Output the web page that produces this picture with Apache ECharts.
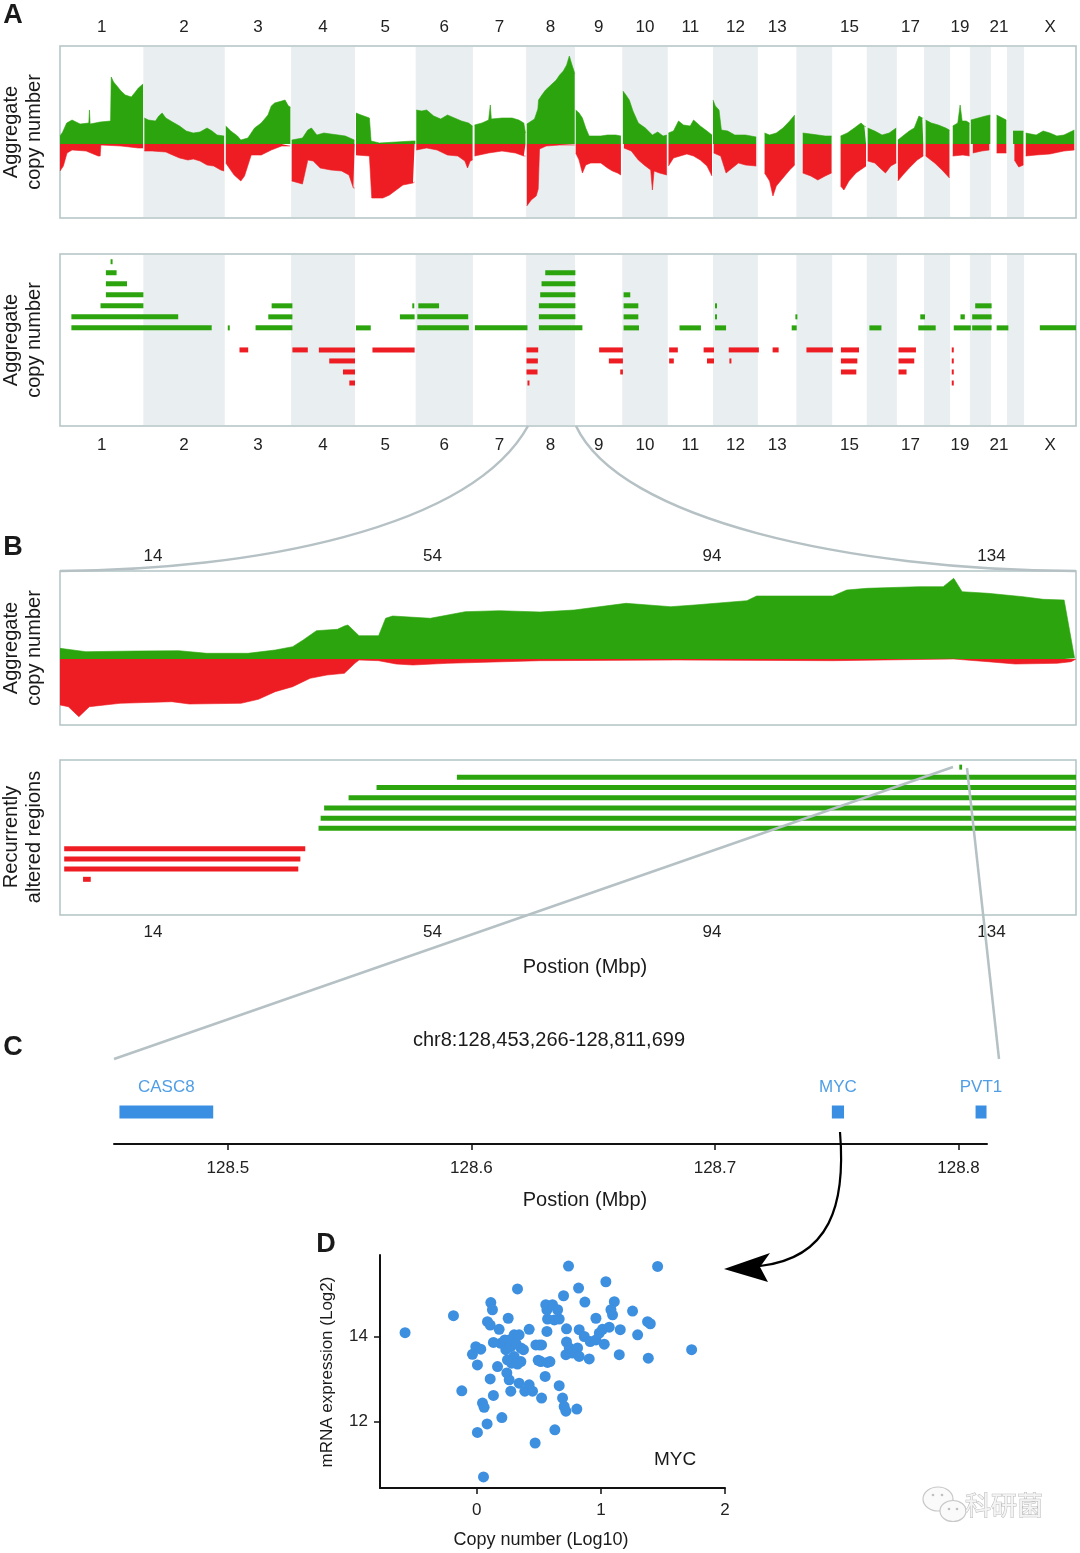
<!DOCTYPE html>
<html><head><meta charset="utf-8">
<script src="https://cdn.jsdelivr.net/npm/echarts@6/dist/echarts.min.js"></script>
<style>html,body{margin:0;padding:0;background:#fff}#chart{width:1080px;height:1553px}</style>
</head><body><div id="chart"></div>
<script>
// ---------------- DATA ----------------
const chromNames   = ['1','2','3','4','5','6','7','8','9','10','11','12','13','14','15','16','17','18','19','20','21','22','X'];
const chromLengths = [249,243,198,191,181,171,159,146,141,136,135,134,115,107,103,90,81,78,59,63,48,51,155]; // Mb
const shownChromLabels = ['1','2','3','4','5','6','7','8','9','10','11','12','13','15','17','19','21','X'];

// Panel A: aggregate copy number profile [chromosome, position (Mb), value]
const gainProfile = [
 ['1',0,8],['1',8,12],['1',20,21],['1',36,24],['1',60,20],['1',86,21],['1',88,34],['1',90,20],['1',120,22],['1',151,23],['1',153,67],['1',160,62],['1',170,58],['1',182,53],['1',195,49],['1',213,47],['1',225,52],['1',234,56],['1',248,60],
 ['2',3,26],['2',15,24],['2',36,23],['2',46,28],['2',56,31],['2',67,26],['2',87,22],['2',108,18],['2',128,13],['2',149,11],['2',169,12],['2',190,16],['2',205,13],['2',220,9],['2',241,8],
 ['3',3,18],['3',18,13],['3',38,8],['3',48,4],['3',69,6],['3',89,16],['3',109,21],['3',129,29],['3',139,38],['3',149,41],['3',170,43],['3',180,44],['3',190,38],['3',196,37],
 ['4',2,4],['4',34,6],['4',50,14],['4',61,16],['4',77,9],['4',98,11],['4',119,10],['4',141,9],['4',162,8],['4',189,4],
 ['5',3,31],['5',18,29],['5',43,26],['5',48,3],['5',73,1],['5',123,2],['5',173,3],['5',180,3],
 ['6',2,34],['6',18,33],['6',33,34],['6',54,28],['6',75,25],['6',95,29],['6',116,26],['6',137,23],['6',158,21],['6',170,18],
 ['7',5,19],['7',27,21],['7',47,24],['7',52,39],['7',55,25],['7',87,26],['7',117,26],['7',137,24],['7',152,21],['7',157,11],
 ['8',2,20],['8',25,25],['8',35,35],['8',37,44],['8',47,49],['8',58,54],['8',74,59],['8',90,64],['8',100,69],['8',111,73],['8',121,79],['8',129,88],['8',137,79],['8',143,73],['8',145,70],
 ['9',2,34],['9',12,31],['9',22,26],['9',32,16],['9',42,8],['9',77,8],['9',97,9],['9',122,9],['9',137,8],
 ['10',2,53],['10',11,49],['10',21,44],['10',32,33],['10',48,21],['10',69,16],['10',90,9],['10',106,12],['10',122,8],['10',133,9],
 ['11',2,11],['11',17,13],['11',32,23],['11',47,19],['11',67,18],['11',77,24],['11',97,18],['11',117,13],['11',132,9],
 ['12',0,44],['12',7,38],['12',18,34],['12',25,14],['12',44,13],['12',65,9],['12',97,9],['12',129,7],
 ['13',20,11],['13',35,9],['13',55,11],['13',75,16],['13',95,23],['13',110,29],
 ['14',19,11],['14',43,10],['14',86,8],['14',105,8],
 ['15',25,8],['15',45,11],['15',66,16],['15',86,21],['15',96,18],['15',101,17],
 ['16',3,16],['16',24,13],['16',46,9],['16',67,11],['16',88,16],
 ['17',3,4],['17',18,8],['17',37,13],['17',52,16],['17',66,28],['17',76,26],['17',79,26],
 ['18',5,24],['18',22,21],['18',43,19],['18',65,16],['18',76,14],
 ['19',8,18],['19',23,21],['19',30,39],['19',36,23],['19',48,23],['19',58,21],
 ['20',3,24],['20',25,26],['20',47,28],['20',61,29],
 ['21',17,29],['21',46,24],
 ['22',18,13],['22',49,13],
 ['X',5,11],['X',36,9],['X',57,13],['X',77,11],['X',98,8],['X',119,9],['X',150,14]
];
const lossProfile = [
 ['1',0,-27],['1',10,-22],['1',21,-9],['1',36,-6],['1',78,-7],['1',114,-12],['1',120,-12],['1',122,-1],['1',182,-2],['1',234,-4],['1',248,-4],
 ['2',3,-7],['2',26,-7],['2',67,-8],['2',87,-11],['2',108,-14],['2',133,-16],['2',149,-15],['2',169,-17],['2',190,-21],['2',210,-22],['2',231,-26],['2',241,-27],
 ['3',3,-19],['3',28,-31],['3',48,-37],['3',59,-32],['3',79,-11],['3',109,-11],['3',139,-6],['3',170,-2],['3',195,-2],
 ['4',2,-37],['4',34,-40],['4',50,-16],['4',66,-17],['4',87,-24],['4',119,-26],['4',151,-27],['4',173,-31],['4',186,-44],['4',190,-44],
 ['5',3,-11],['5',43,-12],['5',50,-54],['5',83,-54],['5',103,-51],['5',123,-46],['5',143,-41],['5',173,-39],['5',178,-38],
 ['6',2,-6],['6',33,-4],['6',64,-6],['6',95,-11],['6',126,-12],['6',147,-17],['6',155,-24],['6',163,-17],['6',170,-16],
 ['7',5,-12],['7',47,-9],['7',87,-7],['7',127,-9],['7',152,-12],['7',157,-12],
 ['8',2,-62],['8',15,-56],['8',30,-52],['8',36,-45],['8',40,-5],['8',60,-2],['8',100,-1],['8',145,-1],
 ['9',2,-9],['9',12,-16],['9',22,-29],['9',32,-21],['9',47,-19],['9',77,-19],['9',97,-24],['9',112,-27],['9',127,-29],['9',137,-31],
 ['10',5,-4],['10',27,-7],['10',48,-16],['10',69,-22],['10',85,-26],['10',90,-46],['10',95,-27],['10',111,-29],['10',133,-31],
 ['11',2,-22],['11',17,-14],['11',37,-12],['11',57,-10],['11',77,-12],['11',97,-16],['11',117,-22],['11',132,-32],
 ['12',2,-9],['12',23,-12],['12',39,-29],['12',50,-26],['12',76,-19],['12',97,-21],['12',129,-22],
 ['13',20,-29],['13',35,-37],['13',45,-52],['13',55,-42],['13',75,-34],['13',95,-26],['13',110,-21],
 ['14',19,-29],['14',43,-32],['14',64,-36],['14',86,-32],['14',105,-29],
 ['15',25,-42],['15',35,-46],['15',50,-37],['15',71,-29],['15',101,-22],
 ['16',3,-17],['16',24,-19],['16',46,-26],['16',56,-29],['16',72,-22],['16',88,-19],
 ['17',3,-37],['17',18,-31],['17',37,-24],['17',61,-16],['17',79,-12],
 ['18',5,-12],['18',32,-19],['18',54,-26],['18',76,-34],
 ['19',8,-12],['19',38,-11],['19',58,-12],
 ['20',9,-9],['20',36,-7],['20',58,-6],
 ['21',17,-9],['21',46,-9],
 ['22',22,-16],['22',35,-23],['22',49,-21],
 ['X',5,-12],['X',36,-11],['X',77,-10],['X',119,-7],['X',150,-6]
];

// Panel A: recurrently altered regions [genome start (Mb), genome end (Mb), row]
const gainSegments = [
 [151,153,7],[137,169,6],[137,200,5],[137,249,4],[121,249,3],[34,353,2],[34,453,1],[501,503,1],
 [632,694,3],[622,694,2],[584,694,1],[884,928,1],[1052,1057,3],[1015,1059,2],
 [1070,1132,3],[1067,1219,2],[1067,1221,1],[1239,1396,1],
 [1449,1539,6],[1438,1539,5],[1434,1539,4],[1430,1539,3],[1430,1539,2],[1430,1560,1],
 [1683,1703,4],[1683,1727,3],[1683,1727,2],[1683,1729,1],[1850,1914,1],
 [1956,1989,1],[1956,1962,2],[1956,1960,3],[2185,2200,1],[2196,2198,2],[2417,2453,1],
 [2569,2583,2],[2563,2615,1],[2689,2702,2],[2669,2720,1],
 [2733,2782,3],[2724,2782,2],[2724,2782,1],[2797,2832,1],[2926,3034,1]
];
const lossSegments = [
 [536,562,-1],[694,740,-1],[773,881,-1],[804,881,-2],[845,881,-3],[864,881,-4],[933,1059,-1],
 [1393,1428,-1],[1393,1427,-2],[1393,1426,-3],[1396,1397.5,-4],
 [1610,1681,-1],[1639,1681,-2],[1673,1681,-3],[1819,1845,-1],[1819,1833,-2],
 [1922,1953,-1],[1932,1953,-2],[1997,2087,-1],[1999,2003,-2],[2128,2146,-1],[2229,2308,-1],
 [2332,2386,-1],[2332,2381,-2],[2332,2378,-3],[2504,2556,-1],[2504,2551,-2],[2504,2528,-3],
 [2663,2665,-1],[2663,2665,-2],[2663,2665,-3],[2663,2665,-4]
];

// Panel B: chr8 [position (Mb), value]
const chr8GainProfile = [
 [0.7,10.7],[4.4,7.3],[11.8,8],[17.7,8.3],[21.7,5.7],[27.6,5.7],[31.5,9],[34,12.3],[35.5,19],[37.4,28.3],[40.4,29.7],[41.4,33],[41.9,34],[42.9,27.3],[43.5,23.3],[46.3,23.3],[47.3,40.7],[48.3,43],[53.7,40.7],[58.7,47.3],[63.6,48.3],[69.4,47],
 [74.3,49],[81.7,55.7],[88.1,52.3],[91.5,54],[99,58.3],[100.4,63],[111.3,63],[113.3,69],[116.2,70.7],[123.6,72.3],[127.1,72.3],[128.6,80.7],[129.8,67.3],[133.5,65.7],[138.5,62.3],[141.4,59.7],[144.4,59],[145.9,0.7]
];
const chr8LossProfile = [
 [0.7,-46],[1.9,-47.7],[3.4,-57.7],[4.9,-47.7],[9.3,-44.3],[16.7,-42.7],[19.2,-45],[26.6,-44.3],[29.1,-40.3],[31.5,-32.7],[34,-27.7],[36.5,-19.3],[38.9,-16],[41.4,-14.3],[42.9,-4.3],[43.5,-1],[46.3,-1.7],[48.8,-5],[51.2,-6],[56.2,-4.3],[69.4,-1.7],
 [89,-1],[111.3,-1.7],[128.6,0],[133.5,-2.7],[137.4,-5],[143.4,-4.3],[145.4,-2.7],[146.1,0]
];
const chr8TickValues = [14,54,94,134];
// Panel B: recurrently altered regions on chr8 [start, end, row]
const chr8GainSegments = [[57.5,146.1,6],[46.0,146.1,5],[42.0,146.1,4],[38.5,146.1,3],[38.0,146.1,2],[37.7,146.1,1],[129.4,129.8,7]];
const chr8LossSegments = [[1.3,35.8,-1],[1.3,35.1,-2],[1.3,34.8,-3],[4.0,5.1,-4]];

// Panel C: genes in chr8:128,453,266-128,811,699
const regionStart = 128.453266, regionEnd = 128.811699;
const geneNames  = ['CASC8','MYC','PVT1'];
const geneStarts = [128.4555, 128.7480, 128.8070];
const geneEnds   = [128.4940, 128.7530, 128.8115];
const regionTicks = [128.5,128.6,128.7,128.8];

// Panel D: MYC copy number vs expression
const copyNumberLog10 = [-0.578,-0.188,-0.121,0.054,0.005,0.083,0.046,0.059,0.202,0.134,0.108,-0.035,0.005,-0.008,0.032,0.113,0.126,0.086,0.108,0.180,0.253,0.328,0.167,0.194,0.226,0.234,0.261,0.274,0.301,0.315,0.341,0.355,0.301,0.280,0.247,0.242,0.261,0.274,0.341,0.355,0.376,0.422,0.387,0.422,0.449,0.470,0.476,0.522,0.495,0.522,0.551,0.570,0.589,0.565,0.570,0.565,0.556,0.610,0.624,0.664,0.629,0.664,0.691,0.704,0.718,0.806,0.699,0.739,0.820,0.871,0.723,0.723,0.718,0.745,0.771,0.812,0.825,0.825,0.866,0.906,0.914,0.960,0.960,0.987,1.013,1.027,1.040,1.067,1.094,1.108,1.081,1.156,1.148,1.255,1.296,1.376,1.398,1.382,1.457,1.731,0.651,0.134,0.328,0.516,0.503];
const mrnaLog2 = [14.09,14.49,12.72,10.69,11.74,11.94,12.43,12.33,12.09,12.61,13.00,13.58,13.33,13.76,13.70,14.80,14.63,14.35,14.27,14.17,14.43,15.12,13.29,13.84,13.92,13.69,13.92,13.76,14.04,13.84,14.04,13.73,13.53,13.37,13.45,13.14,12.98,12.71,12.90,13.41,13.69,14.17,12.71,12.86,12.71,11.49,13.80,13.80,13.44,12.55,13.06,13.39,13.41,14.12,14.41,14.63,14.75,14.75,14.39,14.41,11.80,12.84,12.55,12.35,12.24,12.29,14.96,15.66,15.14,14.81,14.18,13.87,13.57,13.73,13.61,13.73,14.16,13.53,14.00,13.47,13.88,14.43,13.92,14.08,14.17,13.82,15.29,14.22,14.51,14.82,14.63,14.16,13.57,14.60,14.04,14.35,14.30,13.49,15.65,13.69,14.63,13.86,13.35,13.41,13.80];
const copyTicks = [0,1,2];
const mrnaTicks = [12,14];

// ---------------- BUILD ----------------
const FONT = '"Liberation Sans", Arial, Helvetica, sans-serif';
const GREEN = '#2ba40e', RED = '#ee1d23', BLUE = '#3b8fe2', BAND = '#e9eef0', BORDER = '#b3c3c5', CONNECT = '#b5c1c4';
const chromOffsets = [], chromCenters = [];
let acc = 0;
chromLengths.forEach(len => { chromOffsets.push(acc); chromCenters.push(acc + len / 2); acc += len; });
const genomeLength = acc;
const idx = n => chromNames.indexOf(n);

function toGenome(profile) {
  const out = []; let prev = null;
  profile.forEach(([c, pos, v]) => {
    if (prev !== null && prev !== c) out.push([chromOffsets[idx(c)], '-']);
    out.push([chromOffsets[idx(c)] + pos, v]); prev = c;
  });
  return out;
}
const bandData = [];
chromNames.forEach((n, i) => { if (i % 2 === 1) bandData.push([chromOffsets[i], chromOffsets[i] + chromLengths[i]]); });
const labelCenters = shownChromLabels.map(n => chromCenters[idx(n)]);
const chromFormatter = v => { const i = chromCenters.findIndex(c => Math.abs(c - v) < 1e-6); return i >= 0 ? chromNames[i] : ''; };

function bandRender(params, api) {
  const cs = params.coordSys;
  const a = api.coord([api.value(0), 0])[0], b = api.coord([api.value(1), 0])[0];
  return { type: 'rect', shape: { x: a, y: cs.y + 1, width: b - a, height: cs.height - 2 }, style: { fill: BAND } };
}
function segRender(color, h) {
  return function (params, api) {
    const s = api.coord([api.value(0), api.value(2)]);
    const e = api.coord([api.value(1), api.value(2)]);
    return { type: 'rect', shape: { x: s[0], y: s[1] - h / 2, width: Math.max(e[0] - s[0], 2), height: h }, style: { fill: color } };
  };
}
function areaSeries(data, color, xi) {
  return { type: 'line', xAxisIndex: xi, yAxisIndex: xi, data, showSymbol: false, symbol: 'none', smooth: false,
    connectNulls: false, lineStyle: { width: 0.6, color }, areaStyle: { color, opacity: 1 }, z: 3, silent: true };
}
const hiddenX = (gi, min, max, pos, labels, fmt, margin) => ({
  type: 'value', gridIndex: gi, min, max, position: pos,
  axisLine: { show: false }, axisTick: { show: false }, splitLine: { show: false },
  axisLabel: { customValues: labels, formatter: fmt, margin, fontSize: 17, color: '#222', fontFamily: FONT }
});
const hiddenY = (gi, min, max) => ({ type: 'value', gridIndex: gi, min, max, show: false, splitLine: { show: false } });

const gridBox = { show: true, borderColor: BORDER, borderWidth: 1.5, backgroundColor: 'transparent' };
const option = {
  animation: false,
  backgroundColor: '#fff',
  textStyle: { fontFamily: FONT },
  grid: [
    Object.assign({ left: 60, top: 46, width: 1016, height: 172 }, gridBox),
    Object.assign({ left: 60, top: 254, width: 1016, height: 172 }, gridBox),
    Object.assign({ left: 60, top: 571, width: 1016, height: 154 }, gridBox),
    Object.assign({ left: 60, top: 760, width: 1016, height: 155 }, gridBox),
    { left: 114, top: 1080, width: 873, height: 64 },
    { left: 380, top: 1255, width: 345, height: 233 }
  ],
  xAxis: [
    hiddenX(0, 0, genomeLength, 'top', labelCenters, chromFormatter, 10),
    hiddenX(1, 0, genomeLength, 'bottom', labelCenters, chromFormatter, 11),
    hiddenX(2, 0.7, 146.1, 'top', chr8TickValues, v => String(v), 6),
    hiddenX(3, 0.7, 146.1, 'bottom', chr8TickValues, v => String(v), 9),
    { type: 'value', gridIndex: 4, min: regionStart, max: regionEnd, position: 'bottom',
      axisLine: { show: true, lineStyle: { color: '#111', width: 2 } },
      axisTick: { show: true, customValues: regionTicks, length: 6, lineStyle: { color: '#111', width: 1.5 } },
      splitLine: { show: false },
      axisLabel: { customValues: regionTicks, formatter: v => v.toFixed(1), margin: 16, fontSize: 17, color: '#222', fontFamily: FONT } },
    { type: 'value', gridIndex: 5, min: -0.78, max: 2, position: 'bottom',
      axisLine: { show: true, onZero: false, lineStyle: { color: '#111', width: 2 } },
      axisTick: { show: true, customValues: copyTicks, length: 6, lineStyle: { color: '#111', width: 1.5 } },
      splitLine: { show: false },
      axisLabel: { customValues: copyTicks, margin: 14, fontSize: 17, color: '#222', fontFamily: FONT } }
  ],
  yAxis: [
    hiddenY(0, -74, 98), hiddenY(1, -7.9, 7.7), hiddenY(2, -66, 88), hiddenY(3, -7.5, 7.7), hiddenY(4, 0, 1),
    { type: 'value', gridIndex: 5, min: 10.43, max: 15.92,
      axisLine: { show: true, onZero: false, lineStyle: { color: '#111', width: 2 } },
      axisTick: { show: true, customValues: mrnaTicks, length: 6, lineStyle: { color: '#111', width: 1.5 } },
      splitLine: { show: false },
      axisLabel: { customValues: mrnaTicks, margin: 12, fontSize: 17, color: '#222', fontFamily: FONT } }
  ],
  series: [
    { type: 'custom', xAxisIndex: 0, yAxisIndex: 0, data: bandData, renderItem: bandRender, z: 1, silent: true },
    areaSeries(toGenome(gainProfile), GREEN, 0),
    areaSeries(toGenome(lossProfile), RED, 0),
    { type: 'custom', xAxisIndex: 1, yAxisIndex: 1, data: bandData, renderItem: bandRender, z: 1, silent: true },
    { type: 'custom', xAxisIndex: 1, yAxisIndex: 1, data: gainSegments, renderItem: segRender(GREEN, 5), z: 3, clip: true, silent: true },
    { type: 'custom', xAxisIndex: 1, yAxisIndex: 1, data: lossSegments, renderItem: segRender(RED, 5), z: 3, clip: true, silent: true },
    areaSeries(chr8GainProfile, GREEN, 2),
    areaSeries(chr8LossProfile, RED, 2),
    { type: 'custom', xAxisIndex: 3, yAxisIndex: 3, data: chr8GainSegments, renderItem: segRender(GREEN, 5), z: 3, clip: true, silent: true },
    { type: 'custom', xAxisIndex: 3, yAxisIndex: 3, data: chr8LossSegments, renderItem: segRender(RED, 5), z: 3, clip: true, silent: true },
    { type: 'custom', xAxisIndex: 4, yAxisIndex: 4, silent: true, z: 3,
      data: geneNames.map((n, i) => [geneStarts[i], geneEnds[i]]),
      renderItem: (params, api) => {
        const s = api.coord([api.value(0), 0.5]), e = api.coord([api.value(1), 0.5]);
        return { type: 'group', children: [
          { type: 'rect', shape: { x: s[0], y: s[1] - 6.5, width: e[0] - s[0], height: 13 }, style: { fill: BLUE } },
          { type: 'text', x: (s[0] + e[0]) / 2, y: s[1] - 25, style: { text: geneNames[params.dataIndex], fill: '#4f9ee6',
            font: '17px ' + FONT, textAlign: 'center', textVerticalAlign: 'middle', align: 'center', verticalAlign: 'middle' } }
        ] };
      } },
    { type: 'scatter', xAxisIndex: 5, yAxisIndex: 5, symbolSize: 11, itemStyle: { color: '#3d8fe0', opacity: 1 }, z: 3, silent: true,
      data: copyNumberLog10.map((x, i) => [x, mrnaLog2[i]]) }
  ]
};

function txt(text, x, y, size, opts) {
  opts = opts || {};
  return { type: 'text', x, y, rotation: opts.rot || 0, z: 120,
    style: { text, fill: opts.color || '#1a1a1a', font: (opts.bold ? 'bold ' : '') + size + 'px ' + (opts.family || FONT),
      textAlign: opts.align || 'center', textVerticalAlign: 'middle', align: opts.align || 'center', verticalAlign: 'middle',
      lineHeight: opts.lh || size * 1.15, stroke: opts.stroke, lineWidth: opts.strokeWidth || 0 } };
}
const R90 = Math.PI / 2;
option.graphic = { elements: [
  txt('A', 13, 16, 27, { bold: true }), txt('B', 13, 548, 27, { bold: true }),
  txt('C', 13, 1048, 27, { bold: true }), txt('D', 326, 1245, 27, { bold: true }),
  txt('Aggregate\ncopy number', 23, 132, 20, { rot: R90, lh: 23 }),
  txt('Aggregate\ncopy number', 23, 340, 20, { rot: R90, lh: 23 }),
  txt('Aggregate\ncopy number', 23, 648, 20, { rot: R90, lh: 23 }),
  txt('Recurrently\naltered regions', 23, 837, 20, { rot: R90, lh: 23 }),
  txt('Postion (Mbp)', 585, 967, 20),
  txt('chr8:128,453,266-128,811,699', 549, 1040, 20),
  txt('Postion (Mbp)', 585, 1200, 20),
  txt('MYC', 675, 1460, 19),
  txt('Copy number (Log10)', 541, 1540, 18),
  txt('mRNA expression (Log2)', 327, 1372, 17, { rot: R90 }),
  // connectors
  { type: 'bezierCurve', z: 110, shape: { x1: 528, y1: 426, cpx1: 470, cpy1: 530, cpx2: 250, cpy2: 570, x2: 60, y2: 571 }, style: { stroke: CONNECT, lineWidth: 2.5, fill: null } },
  { type: 'bezierCurve', z: 110, shape: { x1: 576, y1: 426, cpx1: 620, cpy1: 520, cpx2: 850, cpy2: 570, x2: 1076, y2: 571 }, style: { stroke: CONNECT, lineWidth: 2.5, fill: null } },
  { type: 'line', z: 110, shape: { x1: 953, y1: 767, x2: 114, y2: 1059 }, style: { stroke: CONNECT, lineWidth: 2.5 } },
  { type: 'line', z: 110, shape: { x1: 967, y1: 768, x2: 999, y2: 1059 }, style: { stroke: CONNECT, lineWidth: 2.5 } },
  // arrow MYC -> D
  { type: 'bezierCurve', z: 110, shape: { x1: 840, y1: 1132, cpx1: 846, cpy1: 1205, cpx2: 830, cpy2: 1258, x2: 760, y2: 1266 }, style: { stroke: '#000', lineWidth: 2.2, fill: null } },
  { type: 'polygon', z: 111, shape: { points: [[724, 1269], [770, 1253], [760, 1267], [768, 1282]] }, style: { fill: '#000' } },
  // watermark
  { type: 'ellipse', z: 100, shape: { cx: 938, cy: 1499, rx: 15, ry: 12 }, style: { fill: '#fafafa', stroke: '#c8c8c8', lineWidth: 1.2 } },
  { type: 'ellipse', z: 101, shape: { cx: 953, cy: 1511, rx: 13, ry: 10.5 }, style: { fill: '#fafafa', stroke: '#c8c8c8', lineWidth: 1.2 } },
  { type: 'circle', z: 102, shape: { cx: 933, cy: 1495, r: 1.3 }, style: { fill: '#c0c0c0' } },
  { type: 'circle', z: 102, shape: { cx: 942, cy: 1495, r: 1.3 }, style: { fill: '#c0c0c0' } },
  { type: 'circle', z: 102, shape: { cx: 949, cy: 1509, r: 1.3 }, style: { fill: '#c0c0c0' } },
  { type: 'circle', z: 102, shape: { cx: 957, cy: 1509, r: 1.3 }, style: { fill: '#c0c0c0' } },
  txt('科研菌', 1004, 1505, 26, { family: '"Noto Sans CJK SC", sans-serif', color: '#f4f4f4', stroke: '#b9b9b9', strokeWidth: 1 })
] };

const chart = echarts.init(document.getElementById('chart'), null, { renderer: 'canvas' });
chart.setOption(option);
</script></body></html>
